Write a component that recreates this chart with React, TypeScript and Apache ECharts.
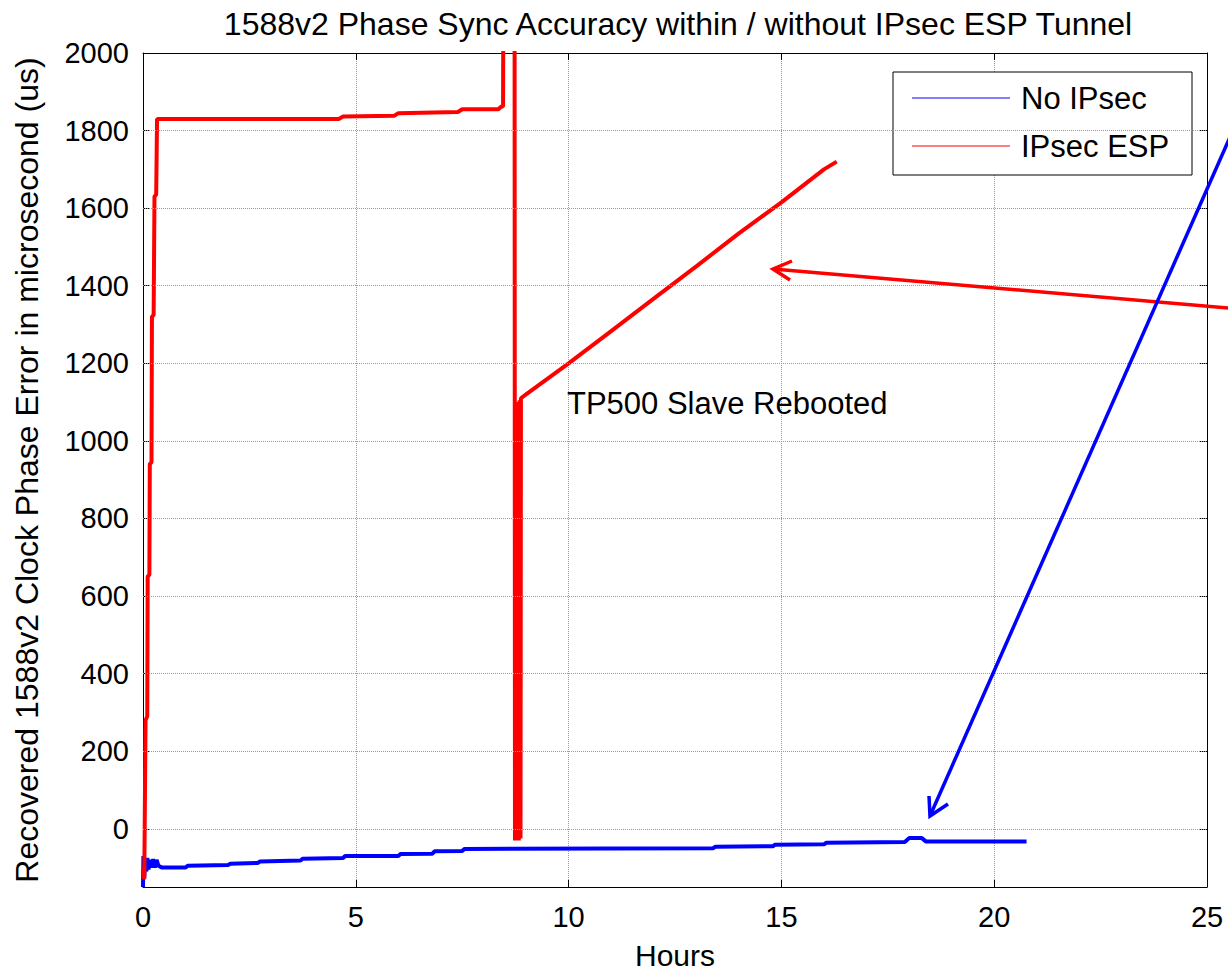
import React, { useEffect, useRef } from "react";
import * as echarts from "echarts";

const titleText = "1588v2 Phase Sync Accuracy within / without IPsec ESP Tunnel";
const xName = "Hours";
const yName = "Recovered 1588v2 Clock Phase Error in microsecond (us)";
const seriesNames = ["No IPsec", "IPsec ESP"];
const seriesColors = ["#0000ff", "#ff0000"];
const yTicks = [0, 200, 400, 600, 800, 1000, 1200, 1400, 1600, 1800, 2000];
const annotationText = "TP500 Slave Rebooted";

const noIpsec: [number, number][] = [
  [0, -150], [0.01, -70], [0.03, -125], [0.05, -80], [0.08, -110], [0.1, -75],
  [0.13, -105], [0.16, -80], [0.2, -100], [0.24, -78], [0.28, -100], [0.32, -80],
  [0.36, -95], [0.45, -100], [1.0, -100], [1.05, -95], [2.0, -93], [2.05, -90],
  [2.7, -88], [2.75, -84], [3.7, -82], [3.75, -77], [4.7, -75], [4.75, -70],
  [6.0, -70], [6.05, -65], [6.8, -64], [6.85, -58], [7.5, -57], [7.55, -52],
  [13.4, -50], [13.45, -46], [14.8, -45], [14.85, -41], [16.0, -40], [16.05, -36],
  [17.9, -34], [18.0, -24], [18.3, -24], [18.4, -33], [20.76, -33],
];

const ipsecEsp: [number, number][] = [
  [0, -100], [0.03, -130], [0.06, 280], [0.1, 290], [0.11, 650], [0.15, 655],
  [0.16, 940], [0.2, 945], [0.21, 1320], [0.25, 1325], [0.27, 1630], [0.31, 1635],
  [0.33, 1830], [4.6, 1830], [4.7, 1836], [5.9, 1838], [6.0, 1845], [7.4, 1848],
  [7.5, 1855], [8.35, 1855], [8.42, 1862], [8.46, 1862], [8.47, 2300], [8.73, 2300],
  [8.74, -30], [8.77, 1100], [8.79, -30], [8.81, 1100], [8.83, -30], [8.85, 1105],
  [8.87, -25], [8.88, 1110], [9.0, 1120], [9.5, 1160], [10.0, 1200], [11.0, 1283],
  [12.0, 1367], [13.0, 1450], [14.0, 1535], [15.0, 1615], [16.0, 1700], [16.3, 1720],
];

const FONT = "Liberation Sans, Arial, sans-serif";

export default function App() {
  const ref = useRef<HTMLDivElement>(null);
  useEffect(() => {
    if (!ref.current) return;
    const chart = echarts.init(ref.current, undefined, { renderer: "svg" });
    const tickCommon = { show: true, inside: true, length: 7, lineStyle: { color: "#000", width: 1 } };
    const axisLineCommon = { show: true, onZero: false, lineStyle: { color: "#000", width: 1 } };
    const option: any = {
      animation: false,
      backgroundColor: "#fff",
      textStyle: { fontFamily: FONT },
      title: {
        text: titleText,
        left: 673,
        textAlign: "center",
        top: 3,
        textStyle: { fontFamily: FONT, fontSize: 32, fontWeight: "normal", color: "#000" },
      },
      grid: { left: 143, width: 1064, top: 53, height: 838, containLabel: false },
      legend: {
        data: seriesNames.map((n, i) => ({ name: n, icon: "rect", itemStyle: { color: seriesColors[i] } })),
        orient: "vertical",
        left: 912,
        top: 81,
        z: 20,
        itemWidth: 98,
        itemHeight: 1,
        itemGap: 14,
        padding: 0,
        textStyle: { fontFamily: FONT, fontSize: 31, color: "#000", lineHeight: 34, padding: [0, 0, 0, 6] },
      },
      xAxis: [
        {
          type: "value",
          min: 0,
          max: 25,
          interval: 5,
          name: xName,
          nameLocation: "middle",
          nameGap: 53,
          nameTextStyle: { fontFamily: FONT, fontSize: 30, color: "#000" },
          axisLine: axisLineCommon,
          axisTick: tickCommon,
          axisLabel: { fontFamily: FONT, fontSize: 29, color: "#000", margin: 15 },
          splitLine: { show: true, lineStyle: { color: "#999", type: "dotted", width: 1 } },
        },
        {
          type: "value",
          position: "top",
          min: 0,
          max: 25,
          interval: 5,
          axisLine: axisLineCommon,
          axisTick: tickCommon,
          axisLabel: { show: false },
          splitLine: { show: false },
        },
      ],
      yAxis: [
        {
          type: "value",
          min: -150,
          max: 2000,
          interval: 50,
          name: yName,
          nameLocation: "middle",
          nameGap: 100,
          nameTextStyle: { fontFamily: FONT, fontSize: 32, color: "#000" },
          axisLine: axisLineCommon,
          axisTick: { ...tickCommon, customValues: yTicks },
          axisLabel: {
            fontFamily: FONT,
            fontSize: 29,
            color: "#000",
            margin: 14,
            customValues: yTicks,
            formatter: (v: number) => (v % 200 === 0 ? String(v) : ""),
          },
          splitLine: { show: false },
        },
        {
          type: "value",
          position: "right",
          min: -150,
          max: 2000,
          interval: 50,
          axisLine: axisLineCommon,
          axisTick: { ...tickCommon, customValues: yTicks },
          axisLabel: { show: false },
          splitLine: { show: false },
        },
      ],
      series: [
        {
          name: "grid",
          type: "line",
          data: [],
          symbol: "none",
          z: 1,
          silent: true,
          markLine: {
            silent: true,
            symbol: "none",
            label: { show: false },
            lineStyle: { color: "#999", type: "dotted", width: 1 },
            data: yTicks.slice(0, -1).map((v) => ({ yAxis: v })),
          },
        },
        {
          name: seriesNames[0],
          type: "line",
          data: noIpsec,
          symbol: "none",
          z: 3,
          lineStyle: { color: seriesColors[0], width: 4 },
          itemStyle: { color: seriesColors[0] },
        },
        {
          name: seriesNames[1],
          type: "line",
          data: ipsecEsp,
          symbol: "none",
          z: 4,
          lineStyle: { color: seriesColors[1], width: 4 },
          itemStyle: { color: seriesColors[1] },
        },
      ],
      graphic: [
        {
          type: "rect",
          z: 5,
          shape: { x: 893, y: 72, width: 299, height: 103 },
          style: { fill: "#fff", stroke: "#000", lineWidth: 1 },
        },
        {
          type: "text",
          z: 60,
          x: 567,
          y: 388,
          style: { text: annotationText, fontFamily: FONT, fontSize: 31, fill: "#000" },
        },
        {
          type: "line",
          z: 60,
          shape: { x1: 773, y1: 269, x2: 1240, y2: 309 },
          style: { stroke: "#ff0000", lineWidth: 3.5 },
        },
        {
          type: "polyline",
          z: 60,
          shape: { points: [[792, 261], [773, 269], [790, 280]] },
          style: { stroke: "#ff0000", lineWidth: 3.5, fill: null },
        },
        {
          type: "line",
          z: 60,
          shape: { x1: 930, y1: 816, x2: 1234, y2: 128 },
          style: { stroke: "#0000ff", lineWidth: 3.5 },
        },
        {
          type: "polyline",
          z: 60,
          shape: { points: [[929, 796], [930, 816], [948, 804]] },
          style: { stroke: "#0000ff", lineWidth: 3.5, fill: null },
        },
      ],
    };
    chart.setOption(option);
    return () => chart.dispose();
  }, []);
  return <div ref={ref} style={{ width: 1228, height: 975, position: "absolute", left: 0, top: 0 }} />;
}
